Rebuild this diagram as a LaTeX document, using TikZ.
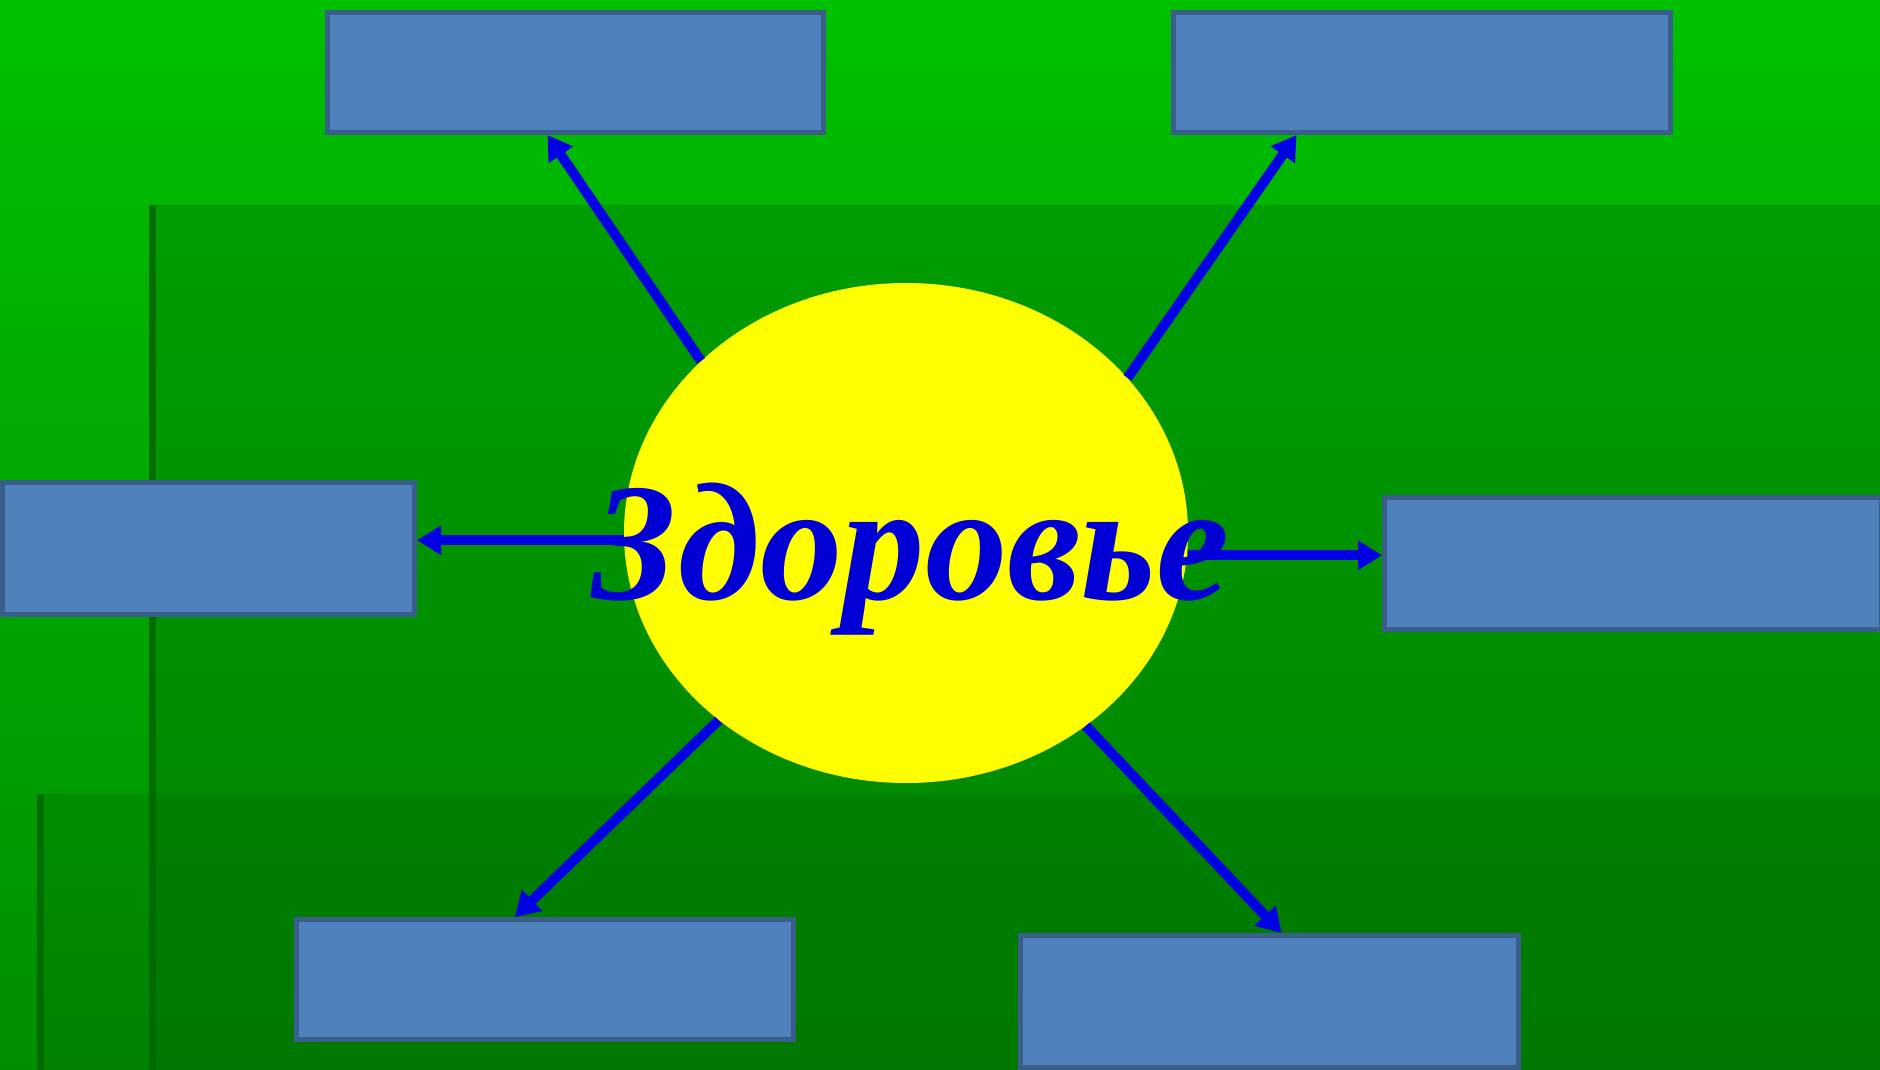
\documentclass[tikz,border=0pt]{standalone}
\usepackage{fontspec}
\setmainfont{Liberation Serif}
\usetikzlibrary{shapes.geometric,arrows.meta,calc}
\definecolor{basetop}{RGB}{0,192,0}
\definecolor{basebot}{RGB}{0,142,0}
\definecolor{midtop}{RGB}{0,157,0}
\definecolor{midbot}{RGB}{0,130,0}
\definecolor{darkline}{RGB}{0,106,0}
\definecolor{boxfill}{RGB}{79,129,189}
\definecolor{boxline}{RGB}{58,94,138}
\definecolor{sunyellow}{RGB}{255,255,0}
\definecolor{arrowblue}{RGB}{0,0,228}
\definecolor{textblue}{RGB}{0,0,212}
\begin{document}
\begin{tikzpicture}[x=0.5pt,y=-0.5pt,
  box/.style={rectangle,draw=boxline,fill=boxfill,line width=2.5pt,inner sep=0pt},
  arr/.style={draw=arrowblue,line width=5pt,-{Triangle[length=12pt,width=14pt]}}]
\useasboundingbox (0,0) rectangle (1880,1070);
% background
\shade[top color=basetop,bottom color=basebot] (0,0) rectangle (1880,1070);
\shade[top color=midtop,bottom color=midbot] (149,205) rectangle (1880,1070);
\fill[black,opacity=0.08] (37,794) rectangle (1880,1070);
\fill[darkline,opacity=0.9] (149,205) rectangle (156,1070);
\fill[darkline,opacity=0.9] (37,794) rectangle (44,1070);
% boxes
\node[box,minimum width=248pt,minimum height=60pt] (tl) at (575.5,72.5) {};
\node[box,minimum width=248.5pt,minimum height=60pt] (tr) at (1422,72.5) {};
\node[box,minimum width=206pt,minimum height=66pt] (lb) at (208.5,548.5) {};
\node[box,minimum width=248.5pt,minimum height=66pt] (rb) at (1633,563.5) {};
\node[box,minimum width=248.5pt,minimum height=60pt] (bl) at (545,979.5) {};
\node[box,minimum width=249pt,minimum height=66pt] (br) at (1269.5,1001.5) {};
% central ellipse
\node[ellipse,fill=sunyellow,draw=none,minimum width=282pt,minimum height=250pt,inner sep=0pt] (ell) at (906,533) {};
% arrows
\coordinate (la) at ($(lb.north east)!0.44!(lb.south east)$);
\coordinate (ra) at ($(rb.north west)!0.44!(rb.south west)$);
\draw[arr] (ell.140) -- ($(tl.south west)!0.444!(tl.south east)$);
\draw[arr] (ell.35) -- ($(tr.south west)!0.25!(tr.south east)$);
\draw[arr] (ell.west |- la) -- (la);
\draw[arr] (ell.east |- ra) -- (ra);
\draw[arr] (ell.225) -- ($(bl.north west)!0.44!(bl.north east)$);
\draw[arr] (ell.313) -- ($(br.north west)!0.524!(br.north east)$);
% title
\node[anchor=base,text=textblue,inner sep=0pt,xscale=0.98,font=\fontsize{84}{84}\selectfont\bfseries\itshape] (title) at (911,599) {Здоровье};
\end{tikzpicture}
\end{document}
